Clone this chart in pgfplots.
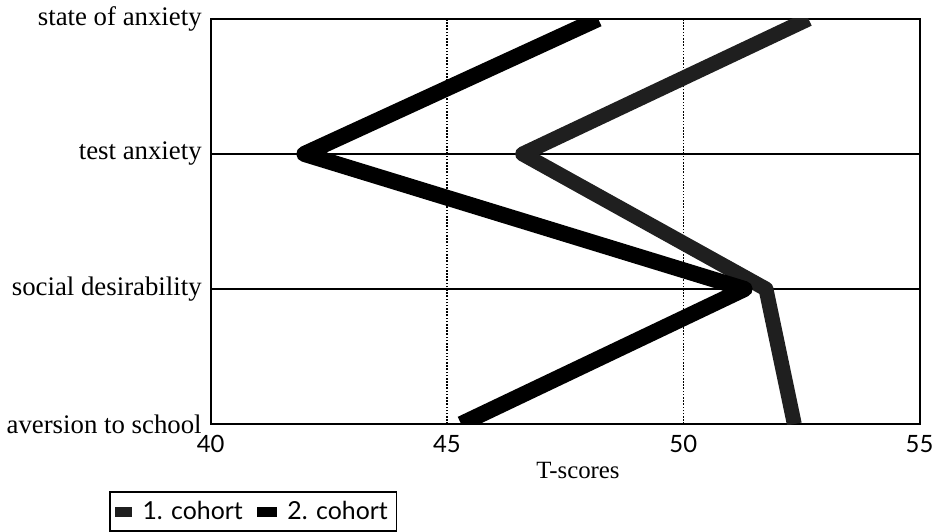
\documentclass[border=0pt]{standalone}
\usepackage{pgfplots}
\pgfplotsset{compat=1.18}
\usepackage{fontspec}
\setmainfont{Liberation Serif}
\newfontfamily\ticksans{Lato}
\begin{document}
\begin{tikzpicture}
\begin{axis}[
  scale only axis,
  width=357pt, height=204pt,
  xmin=40, xmax=55, ymin=0, ymax=3,
  xtick={40,45,50,55},
  ytick={0,1,2,3},
  yticklabels={\raisebox{-3.5pt}{aversion to school}, social desirability, test anxiety, \raisebox{-1pt}{state of anxiety}},
  major tick length=0pt,
  axis line style={line width=1pt},
  tick label style={font=\fontsize{13.5}{16}\selectfont},
  x tick label style={font=\ticksans\fontsize{12}{14}\selectfont, yshift=-2pt},
  yticklabel style={xshift=-1pt},
  xlabel={T-scores},
  xlabel style={font=\fontsize{12.5}{14}\selectfont, yshift=2pt, xshift=6.5pt},
  /pgf/number format/assume math mode=true,
  extra x ticks={45,50},
  extra x tick labels={},
  extra x tick style={grid=major, major grid style={black, line width=0.6pt, dash pattern=on 0.8pt off 0.8pt}},
  extra y ticks={1,2},
  extra y tick labels={},
  extra y tick style={grid=major, major grid style={black, line width=0.6pt}},
  legend columns=2,
  legend style={at={(-0.1435,-0.166)}, anchor=north west, draw=black, line width=0.8pt,
    font=\ticksans\fontsize{12.5}{15}\selectfont, inner sep=2.5pt,
    /tikz/every odd column/.append style={column sep=3.5pt},
    /tikz/every even column/.append style={column sep=5pt}},
  legend cell align=left,
]
\addplot[color=black!88, line width=7.5pt, line join=round,
  legend image code/.code={\path[fill=black!88, draw=none] (0pt,-2.5pt) rectangle (8.5pt,2.5pt);}]
  coordinates {(52.35,0) (51.75,1) (46.6,2) (52.65,3)};
\addlegendentry{1. cohort}
\addplot[color=black, line width=8pt, line join=round,
  legend image code/.code={\path[fill=black, draw=none] (0pt,-2.5pt) rectangle (10pt,2.5pt);}]
  coordinates {(45.3,0) (51.3,1) (41.98,2) (48.2,3)};
\addlegendentry{2. cohort\hspace{5pt}}
\end{axis}
\path (current axis.south west) ++(-103.5pt,-52.5pt) rectangle ++(470pt,265pt);
\end{tikzpicture}
\end{document}
